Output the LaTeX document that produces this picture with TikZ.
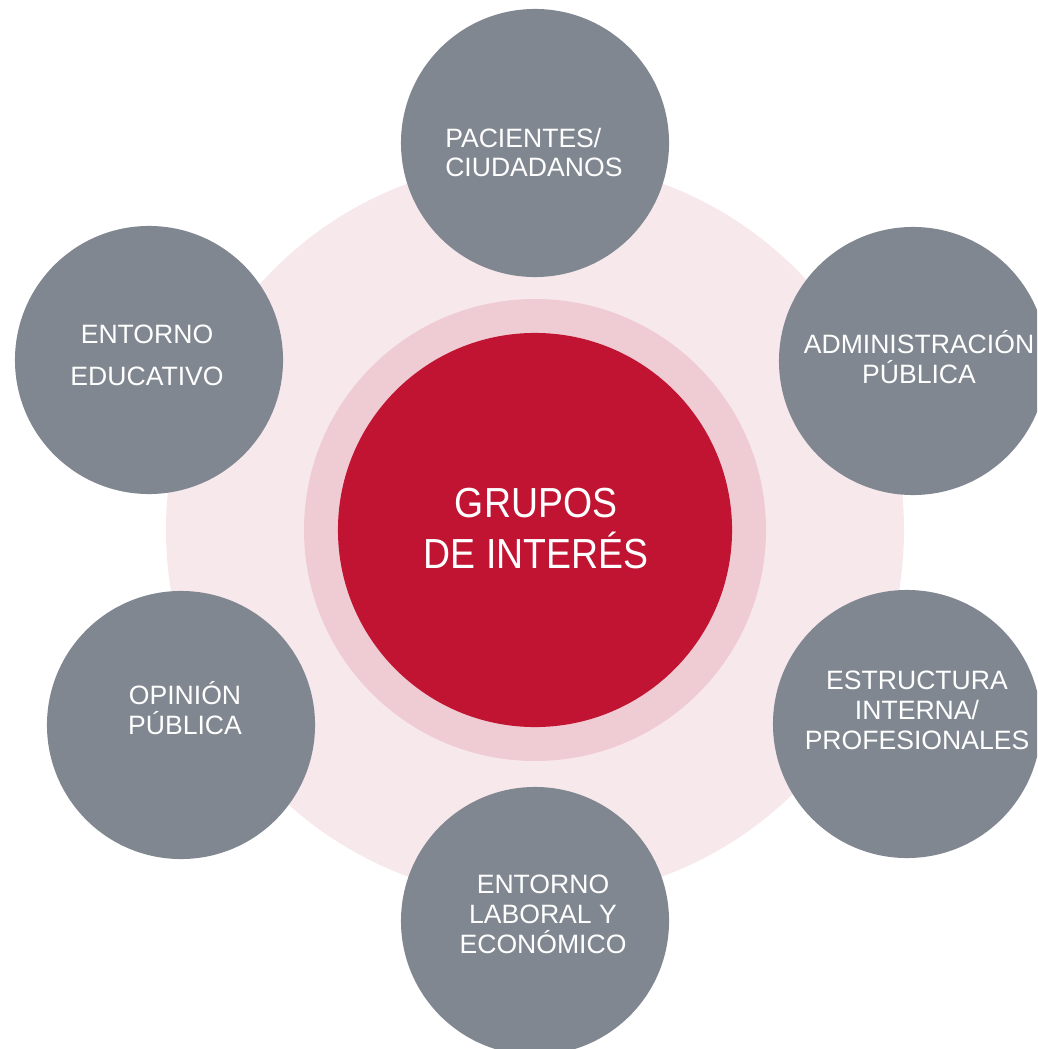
\documentclass[tikz,border=0pt]{standalone}
\usepackage{fontspec}
\setmainfont{Liberation Sans}
\newfontfamily\titulofont[FakeStretch=0.89]{Liberation Sans}
\usepackage{tikz}
\usepackage{xcolor}
\definecolor{gris}{RGB}{128,135,144}
\definecolor{rojo}{RGB}{192,20,50}
\definecolor{rosaclaro}{RGB}{247,232,236}
\definecolor{rosa}{RGB}{239,204,212}

\tikzset{
  grupo/.style={circle,fill=gris,minimum size=6.7cm,inner sep=0pt},
  etiqueta/.style={anchor=base,align=center,text=white,inner sep=0pt,
    font=\fontsize{18.9pt}{21.3pt}\selectfont},
}

\begin{document}
\begin{tikzpicture}[x=0.025cm,y=0.025cm]
 \clip (0,-1049) rectangle (1037,0);
 % fondo y circulo central
 \path[fill=rosaclaro] (535,-530) circle (369);
 \path[fill=rosa] (535,-530) circle (231);
 \node[circle,fill=rojo,minimum size=9.85cm,inner sep=0pt] (centro) at (535,-530) {};
 % (base = ultima linea)
 \node[etiqueta,font=\titulofont\fontsize{29.9pt}{35.6pt}\selectfont] (titulo) at (536,-568) {GRUPOS\\DE INTERÉS};

 % grupos alrededor
 \node[grupo] (pacientes) at (535,-143) {};
 \node[grupo] (administracion) at (913,-361) {};
 \node[grupo] (estructura) at (907,-724) {};
 \node[grupo] (laboral) at (535,-921) {};
 \node[grupo] (opinion) at (181,-725) {};
 \node[grupo] (educativo) at (149,-360) {};

 \node[etiqueta,anchor=base west,align=left] (pacientesT) at (445,-177) {PACIENTES/\\CIUDADANOS};
 \node[etiqueta] (administracionT) at (919,-383) {ADMINISTRACIÓN\\PÚBLICA};
 \node[etiqueta] (estructuraT) at (917,-749) {ESTRUCTURA\\INTERNA/\\PROFESIONALES};
 \node[etiqueta] (laboralT) at (543,-953) {ENTORNO\\LABORAL Y\\ECONÓMICO};
 \node[etiqueta] (opinionT) at (185,-734) {OPINIÓN\\PÚBLICA};
 \node[etiqueta] (educativoT) at (147,-385) {ENTORNO\\[8.5pt]EDUCATIVO};
\end{tikzpicture}
\end{document}
